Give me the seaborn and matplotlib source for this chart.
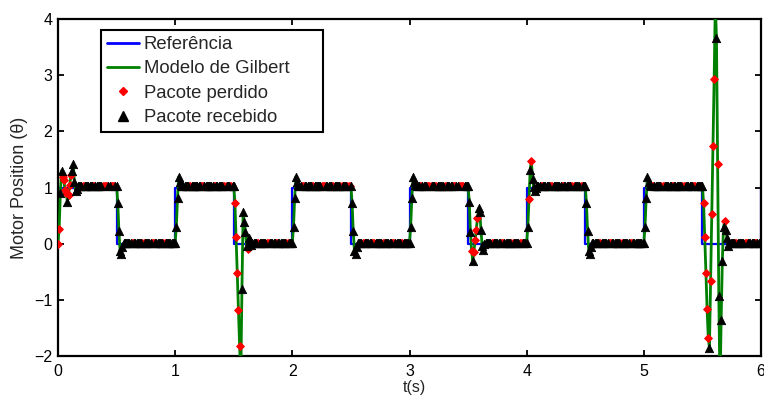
import numpy as np
import pandas as pd
import matplotlib
matplotlib.use("Agg")
import matplotlib.pyplot as plt
from matplotlib.lines import Line2D
import seaborn as sns

# ---------------------------------------------------------------- data
dt = 0.01           # sampling period of the networked loop (s)
t_end = 6.0
half_period_samples = 50

# reference square wave: switching instants and level held afterwards
ref_times = [0.0, 0.5, 1.0, 1.5, 2.0, 2.5, 3.0, 3.5, 4.0, 4.5, 5.0, 5.5, 6.0]
ref_levels = [1, 0, 1, 0, 1, 0, 1, 0, 1, 0, 1, 0, 1]

# motor position under the Gilbert loss model, one entry per half period:
# transient samples after the switching instant, then the settled level
seg_transient = [
    [0.00, 0.27, 0.90, 1.30, 1.18, 1.13, 0.95, 0.90, 0.75, 0.87, 1.04, 1.22,
     1.30, 1.42, 1.10, 0.93, 0.97, 1.02],
    [1.03, 0.73, 0.22, -0.13, -0.18, -0.06, 0.01],
    [0.02, 0.30, 0.81, 1.19, 1.10, 1.04],
    [1.03, 0.72, 0.11, -0.53, -1.18, -1.82, -2.40, -0.80, 0.56, 0.39, 0.21,
     -0.05, -0.10, 0.10, 0.06, -0.02, 0.01],
    [0.02, 0.30, 0.81, 1.19, 1.10, 1.04],
    [1.03, 0.73, 0.22, -0.13, -0.18, -0.06, 0.01],
    [0.02, 0.30, 0.81, 1.19, 1.10, 1.04],
    [1.03, 0.75, 0.21, -0.13, -0.30, -0.14, 0.06, 0.25, 0.45, 0.63, 0.57,
     0.24, -0.05, -0.12, 0.00],
    [0.02, 0.30, 0.80, 1.31, 1.48, 1.16, 1.01, 0.93, 1.00],
    [1.03, 0.73, 0.22, -0.13, -0.18, -0.06, 0.01],
    [0.02, 0.30, 0.81, 1.19, 1.10, 1.04],
    [1.03, 0.72, 0.12, -0.52, -1.17, -1.68, -1.85, -0.66, 0.53, 1.74, 2.93,
     4.25, 3.67, 1.41, -0.94, -2.60, -1.36, -0.30, 0.29, 0.41, 0.24, 0.10,
     -0.05, 0.02],
]
seg_settled = [1.03, 0.02, 1.03, 0.02, 1.03, 0.02,
               1.03, 0.02, 1.03, 0.02, 1.03, 0.02]
last_sample = 0.02   # value at t = 6.00 s

# bursts of lost packets (first and last lost sample time, s)
lost_bursts = [
    (0.00, 0.01), (0.04, 0.07), (0.09, 0.11), (0.21, 0.22), (0.30, 0.31),
    (0.38, 0.42), (0.45, 0.48), (0.63, 0.64), (0.72, 0.73), (0.80, 0.82),
    (0.90, 0.91), (1.12, 1.13), (1.22, 1.24), (1.33, 1.34), (1.41, 1.43),
    (1.47, 1.48), (1.51, 1.55), (1.62, 1.62), (1.70, 1.71), (1.78, 1.80),
    (1.86, 1.87), (1.95, 1.96), (2.08, 2.10), (2.17, 2.18), (2.25, 2.28),
    (2.34, 2.35), (2.41, 2.42), (2.47, 2.49), (2.60, 2.61), (2.68, 2.70),
    (2.77, 2.78), (2.85, 2.87), (2.93, 2.94), (3.09, 3.10), (3.15, 3.18),
    (3.22, 3.23), (3.30, 3.31), (3.37, 3.39), (3.42, 3.46), (3.53, 3.53),
    (3.55, 3.58), (3.70, 3.71), (3.78, 3.80), (3.87, 3.88), (3.94, 3.96),
    (4.02, 4.02), (4.04, 4.04), (4.12, 4.13), (4.20, 4.22), (4.30, 4.31),
    (4.38, 4.40), (4.46, 4.47), (4.62, 4.63), (4.70, 4.72), (4.80, 4.81),
    (4.88, 4.90), (5.07, 5.08), (5.15, 5.17), (5.24, 5.25), (5.33, 5.35),
    (5.42, 5.44), (5.51, 5.55), (5.57, 5.61), (5.63, 5.63), (5.69, 5.69),
    (5.78, 5.79), (5.86, 5.88), (5.95, 5.96),
]

legend_labels = ["Referência", "Modelo de Gilbert",
                 "Pacote perdido", "Pacote recebido"]

# ---------------------------------------------------------------- series
pos = []
for trans, settled in zip(seg_transient, seg_settled):
    pos.extend(trans + [settled] * (half_period_samples - len(trans)))
pos.append(last_sample)
n = len(pos)
t = np.round(np.arange(n) * dt, 2)

lost = np.zeros(n, dtype=bool)
for a, b in lost_bursts:
    lost[int(round(a / dt)):int(round(b / dt)) + 1] = True

model = pd.DataFrame({"t": t, "pos": pos, "lost": lost})
ref = pd.DataFrame({"t": ref_times, "level": ref_levels})

# ---------------------------------------------------------------- style
sns.set_style("ticks")
plt.rcParams["font.family"] = ["Liberation Sans", "DejaVu Sans"]
plt.rcParams["axes.unicode_minus"] = True

blue = (0, 0, 1)
green = (0, 0.5, 0)
red = (1, 0, 0)

fig = plt.figure(figsize=(7.64, 3.96), dpi=100)
ax = fig.add_axes([58 / 764, 1 - 356 / 396, 703 / 764, 337 / 396])

sns.lineplot(data=ref, x="t", y="level", ax=ax, color=blue, lw=1.6,
             drawstyle="steps-post", estimator=None, legend=False, zorder=2)
sns.lineplot(data=model, x="t", y="pos", ax=ax, color=green, lw=2.0,
             estimator=None, legend=False, zorder=3)
sns.scatterplot(data=model[model["lost"]], x="t", y="pos", ax=ax,
                marker="D", s=15, color=red, edgecolor=red, linewidth=0.8,
                legend=False, zorder=4)
sns.scatterplot(data=model[~model["lost"]], x="t", y="pos", ax=ax,
                marker="^", s=36, color="black", edgecolor="black",
                linewidth=0.6, legend=False, zorder=5)

ax.set_xlim(0, 6)
ax.set_ylim(-2, 4)
ax.set_xticks(range(0, 7))
ax.set_yticks(range(-2, 5))
ax.tick_params(direction="in", length=4, width=1.3, top=True, right=True,
               labelsize=11.5, colors="black")
ax.tick_params(axis="x", pad=6)
ax.tick_params(axis="y", pad=4)
for sp in ax.spines.values():
    sp.set_linewidth(1.6)
    sp.set_color("black")
    sp.set_visible(True)

ax.set_xlabel("t(s)", fontsize=11.5)
ax.set_ylabel("Motor Position (θ)", fontsize=13)
ax.xaxis.set_label_coords(0.507, -0.072)
ax.yaxis.set_label_coords(-0.043, 0.5)

handles = [
    Line2D([], [], color=blue, lw=2),
    Line2D([], [], color=green, lw=2),
    Line2D([], [], color=red, marker="D", ls="none", ms=4),
    Line2D([], [], color="black", marker="^", ls="none", ms=6.5),
]
leg = ax.legend(handles, legend_labels, loc="upper left",
                bbox_to_anchor=(0.061, 0.677, 0.316, 0.29), mode="expand",
                borderaxespad=0, fontsize=13.3, frameon=True, fancybox=False,
                framealpha=1, edgecolor="black", handlelength=1.75,
                handletextpad=0.25, labelspacing=0.4, borderpad=0.32,
                numpoints=1)
leg.get_frame().set_linewidth(1.5)

fig.savefig("out.png", dpi=100)
